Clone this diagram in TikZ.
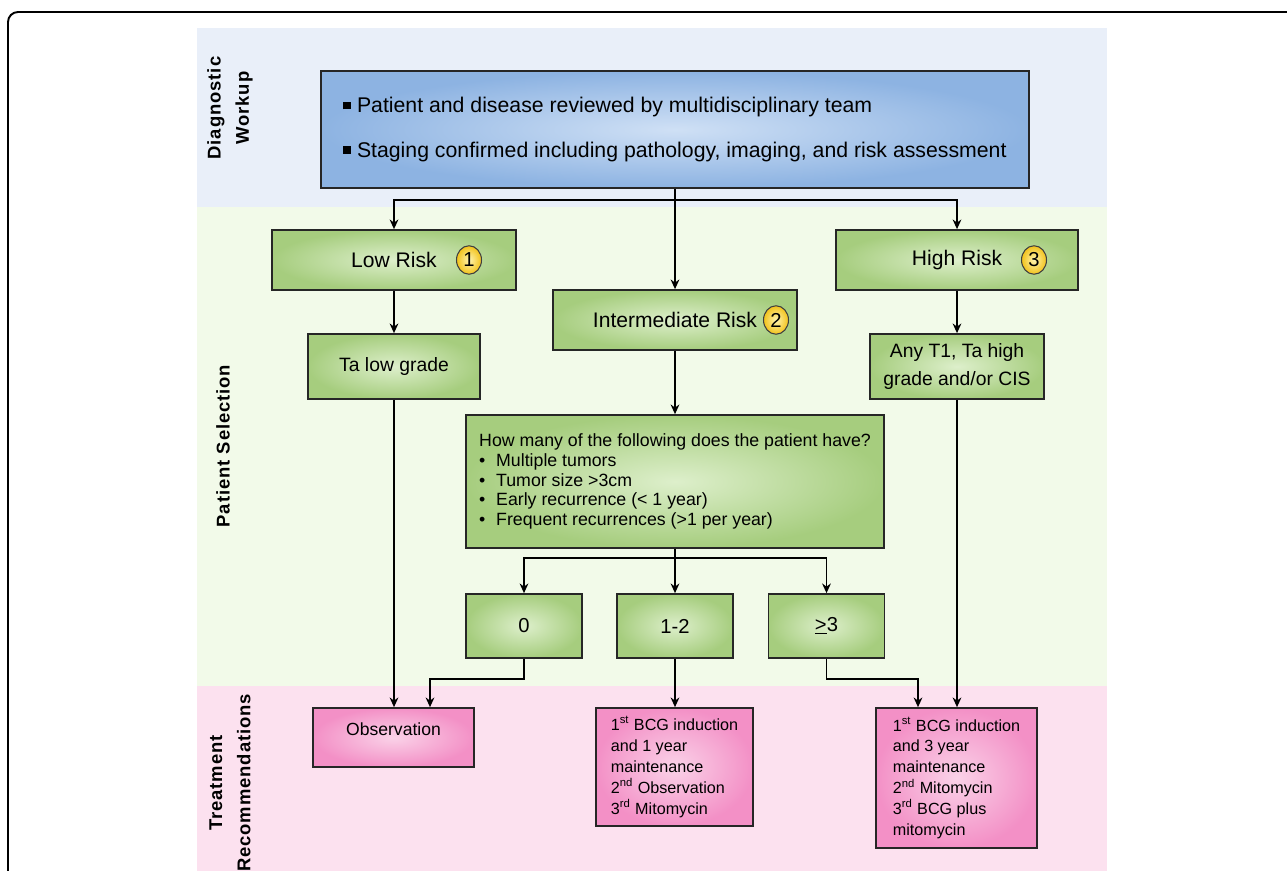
\documentclass[tikz,border=0pt]{standalone}
\usepackage{fontspec}
\setmainfont{Liberation Sans}
\newfontfamily\bandfont[LetterSpace=5]{Liberation Sans}
\usetikzlibrary{calc,shapes.geometric,arrows.meta}
\definecolor{band_blue}{HTML}{E9EFF9}
\definecolor{band_green}{HTML}{F2FAE9}
\definecolor{band_pink}{HTML}{FCE1EF}
\definecolor{box_blue}{HTML}{8DB3E2}
\definecolor{box_blue_light}{HTML}{CFE0F5}
\definecolor{box_green}{HTML}{A6CD7E}
\definecolor{box_green_light}{HTML}{DDEFCB}
\definecolor{box_pink}{HTML}{F390C6}
\definecolor{box_pink_light}{HTML}{FAD2E8}
\definecolor{badge_gold}{HTML}{F2C21A}
\definecolor{badge_light}{HTML}{FFF4B0}
\newcommand{\sqbullet}{\raisebox{0.16em}{\rule{0.36em}{0.36em}}}
\newcommand{\qitem}{\makebox[0.34cm][l]{\textbullet}}

\tikzset{
  bluebox/.style={draw=black!85, line width=1pt, inner color=box_blue_light, outer color=box_blue},
  riskbox/.style={draw=black!85, line width=1pt, inner color=box_green_light, outer color=box_green},
  treatbox/.style={draw=black!85, line width=1pt, inner color=box_pink_light, outer color=box_pink},
  badge/.style={ellipse, draw=black!75, line width=0.6pt, inner color=badge_light, outer color=badge_gold,
    minimum width=0.5cm, minimum height=0.57cm, inner sep=0pt, font=\fontsize{11.5}{13}\selectfont},
  bandlabel/.style={rotate=90, align=center, font=\bandfont\fontsize{10.5}{16}\selectfont\bfseries},
  link/.style={->, line width=0.8pt}
}

\begin{document}
\begin{tikzpicture}[x=0.02cm,y=-0.02cm,>={Stealth[length=5.5pt,width=5pt]}]

    \useasboundingbox (0,0) rectangle (1287,871);

    % Cadre et bandes de fond
    \draw[line width=1.1pt, rounded corners=0.2cm] (1287,12) -- (8,12) -- (8,871);
    \fill[band_blue] (197,28) rectangle (1107,207);
    \fill[band_green] (197,207) rectangle (1107,686);
    \fill[band_pink] (197,686) rectangle (1107,871);

    \node[bandlabel] (lab_diag) at (230,108) {Diagnostic\\Workup};
    \node[bandlabel] (lab_sel) at (223,446) {Patient Selection};
    \node[bandlabel] (lab_treat) at (230,783) {Treatment\\Recommendations};

    % Bilan diagnostique
    \node[bluebox, minimum width=14.16cm, minimum height=2.34cm, align=left,
      font=\fontsize{12.1}{14}\selectfont] (diag) at (675,129.5)
      {\sqbullet~Patient and disease reviewed by multidisciplinary team\\[0.4cm]
       \sqbullet~Staging confirmed including pathology, imaging, and risk assessment};

    % Groupes de risque
    \node[riskbox, minimum width=4.88cm, minimum height=1.2cm, font=\fontsize{12}{14}\selectfont] (low) at (394,260) {Low Risk};
    \node[riskbox, minimum width=4.88cm, minimum height=1.2cm, font=\fontsize{12}{14}\selectfont] (inter) at (675,320) {Intermediate Risk};
    \node[riskbox, minimum width=4.84cm, minimum height=1.2cm, font=\fontsize{12}{14}\selectfont] (high) at (957,260) {High Risk};
    \node[badge] (badge1) at (469,260) {1};
    \node[badge] (badge2) at (776,320) {2};
    \node[badge] (badge3) at (1034,260) {3};

    \node[riskbox, minimum width=3.44cm, minimum height=1.3cm, font=\fontsize{11}{15.9}\selectfont] (talow) at (394,366.5) {Ta low grade};
    \node[riskbox, minimum width=3.48cm, minimum height=1.3cm, align=center, font=\fontsize{11}{15.9}\selectfont] (anyt1) at (957,366.5) {Any T1, Ta high\\grade and/or CIS};

    \node[riskbox, minimum width=8.36cm, minimum height=2.66cm, align=left, font=\fontsize{10.1}{11.2}\selectfont] (quest) at (675,481.5)
      {How many of the following does the patient have?\\
       \qitem Multiple tumors\\
       \qitem Tumor size >3cm\\
       \qitem Early recurrence (< 1 year)\\
       \qitem Frequent recurrences (>1 per year)};

    \node[riskbox, minimum width=2.32cm, minimum height=1.28cm, font=\fontsize{11.5}{13}\selectfont] (count0) at (524,626) {0};
    \node[riskbox, minimum width=2.32cm, minimum height=1.28cm, font=\fontsize{11.5}{13}\selectfont] (count12) at (675,626) {1-2};
    \node[riskbox, minimum width=2.32cm, minimum height=1.28cm, font=\fontsize{11.5}{13}\selectfont] (count3) at (826.5,626) {\underline{>}3};

    % Recommandations
    \node[treatbox, minimum width=3.22cm, minimum height=1.18cm,
      label={[anchor=north, yshift=-0.18cm, font=\fontsize{10}{12}\selectfont]north:Observation}] (obs) at (393.5,737.5) {};
    \node[treatbox, minimum width=3.14cm, minimum height=2.36cm, align=left, font=\fontsize{9.2}{11.9}\selectfont] (treat12) at (674.5,767)
      {1\textsuperscript{st} BCG induction\\and 1 year\\maintenance\\2\textsuperscript{nd} Observation\\3\textsuperscript{rd} Mitomycin};
    \node[treatbox, minimum width=3.22cm, minimum height=2.8cm, align=left, font=\fontsize{9.2}{11.9}\selectfont] (treat3) at (956.5,778)
      {1\textsuperscript{st} BCG induction\\and 3 year\\maintenance\\2\textsuperscript{nd} Mitomycin\\3\textsuperscript{rd} BCG plus\\mitomycin};

    % Fleches
    \coordinate (split) at (675,200);
    \coordinate (qsplit) at (675,558);
    \coordinate (bend0) at (430,679);
    \coordinate (bend3) at (918,679);

    \draw[link] (diag.south) -- (inter.north);
    \draw[link] (diag.south |- split) -| (low.north);
    \draw[link] (diag.south |- split) -| (high.north);
    \draw[link] (low.south) -- (talow.north);
    \draw[link] (high.south) -- (anyt1.north);
    \draw[link] (inter.south) -- (quest.north);

    \draw[link] (quest.south) -- (count12.north);
    \draw[link] (quest.south |- qsplit) -| (count0.north);
    \draw[link] (quest.south |- qsplit) -| (count3.north);

    \draw[link] (talow.south) -- (talow.south |- obs.north);
    \draw[link] (count0.south) |- (bend0) -- (bend0 |- obs.north);
    \draw[link] (count12.south) -- (count12.south |- treat12.north);
    \draw[link] (count3.south) |- (bend3) -- (bend3 |- treat3.north);
    \draw[link] (anyt1.south) -- (anyt1.south |- treat3.north);
\end{tikzpicture}
\end{document}
